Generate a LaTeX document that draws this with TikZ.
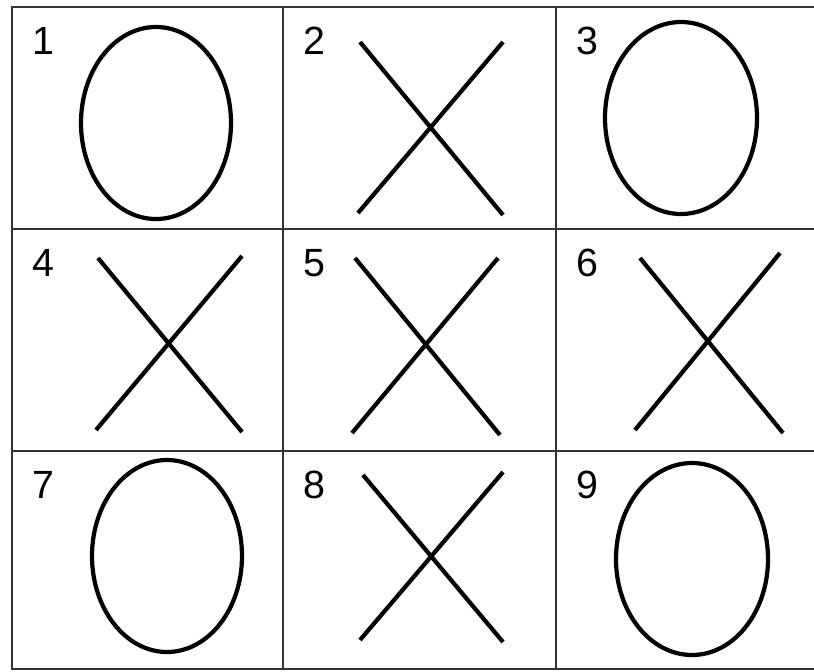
\documentclass[tikz,border=0pt]{standalone}
\usepackage{fontspec}
\setmainfont{Liberation Sans}
\usetikzlibrary{positioning}

\begin{document}
\begin{tikzpicture}[
    x=0.025cm, y=-0.025cm,
    gridline/.style={draw=black!80, line width=1.4pt},
    ostroke/.style={draw=black, line width=3pt},
    xstroke/.style={draw=black, line width=3pt},
    num/.style={anchor=north west, inner sep=0pt,
                font=\fontsize{28}{28}\selectfont}
  ]
  \useasboundingbox (0,0) rectangle (814,671);

  % board
  \draw[gridline] (12,7) rectangle (828,669);
  \foreach \x in {283,556} {
    \draw[gridline] (\x,7) -- (\x,669);
  }
  \foreach \y in {229,451} {
    \draw[gridline] (12,\y) -- (828,\y);
  }

  % cell numbers
  \foreach \n/\cx/\cy in {1/12/7, 2/283/7, 3/556/7,
                          4/12/229, 5/283/229, 6/556/229,
                          7/12/451, 8/283/451, 9/556/451} {
    \node[num] (n\n) at (\cx+20,\cy+20) {\n};
  }

  % noughts
  \draw[ostroke] (156,123) ellipse [x radius=75, y radius=96];
  \draw[ostroke] (681,118) ellipse [x radius=76, y radius=96];
  \draw[ostroke] (167,556) ellipse [x radius=75, y radius=96];
  \draw[ostroke] (692,559) ellipse [x radius=76, y radius=96];

  % crosses
  \draw[xstroke] (360,42) -- (503,215) (503,42) -- (358,213);
  \draw[xstroke] (98,258) -- (242,432) (242,256) -- (96,430);
  \draw[xstroke] (355,258) -- (500,435) (498,258) -- (352,433);
  \draw[xstroke] (640,258) -- (783,433) (780,253) -- (635,430);
  \draw[xstroke] (363,475) -- (503,642) (503,472) -- (360,640);
\end{tikzpicture}
\end{document}
